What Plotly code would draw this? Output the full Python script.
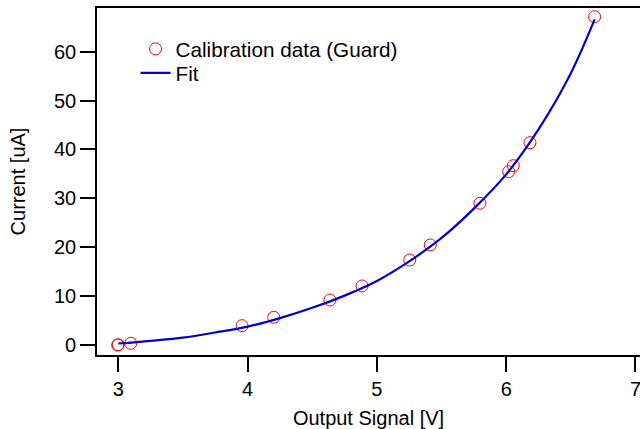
import plotly.graph_objects as go

# Calibration data
data_x = [2.995, 3.0, 3.096, 3.957, 4.202, 4.637, 4.885, 5.254, 5.413, 5.797, 6.019, 6.055, 6.184, 6.684]
data_y = [0.0, 0.05, 0.35, 3.95, 5.67, 9.2, 12.07, 17.39, 20.46, 28.99, 35.45, 36.68, 41.39, 67.16]

# Fit curve
fit_x = [3.0, 3.25, 3.5, 3.75, 4.0, 4.25, 4.5, 4.75, 5.0, 5.25, 5.5, 5.75, 6.0, 6.25, 6.5, 6.684]
fit_y = [0.3, 0.85, 1.5, 2.55, 3.75, 5.5, 7.6, 10.1, 13.1, 17.1, 21.9, 27.9, 34.9, 44.1, 55.6, 66.6]

x_ticks = [3, 4, 5, 6, 7]
y_ticks = [0, 10, 20, 30, 40, 50, 60]

FONT = "Liberation Sans, Arial, sans-serif"
FS = 20

fig = go.Figure()
fig.add_trace(go.Scatter(
    x=data_x, y=data_y, mode="markers", name="Calibration data (Guard)", legend="legend",
    marker=dict(symbol="circle-open", size=12, color="#ff0000", line=dict(width=1, color="#ff0000")),
))
fig.add_trace(go.Scatter(
    x=fit_x, y=fit_y, mode="lines", name="Fit", line_shape="spline", legend="legend2",
    line=dict(color="#0000cc", width=2.2),
))

leg_common = dict(xanchor="left", yanchor="middle", bgcolor="rgba(0,0,0,0)", borderwidth=0,
                  font=dict(family=FONT, size=20.7, color="black"))

fig.update_layout(
    width=640, height=429,
    margin=dict(l=97, r=0, t=8, b=74),
    paper_bgcolor="white", plot_bgcolor="white",
    font=dict(family=FONT, size=FS, color="black"),
    showlegend=True,
    legend=dict(x=0.071, y=0.882, **leg_common),
    legend2=dict(x=0.071, y=0.813, **leg_common),
    xaxis=dict(
        range=[2.835, 7.035], tickvals=x_ticks, ticktext=[str(v) for v in x_ticks],
        showgrid=False, zeroline=False, showline=True, linecolor="black", linewidth=1.6,
        mirror=True, ticks="outside", ticklen=15, tickwidth=1.6, tickcolor="black",
        ticklabeloverflow="allow", automargin=False,
        tickfont=dict(size=FS),
        title=dict(text="Output Signal [V]", font=dict(size=FS), standoff=13),
    ),
    yaxis=dict(
        range=[-2.05, 68.94], tickvals=y_ticks, ticktext=[str(v) for v in y_ticks],
        showgrid=False, zeroline=False, showline=True, linecolor="black", linewidth=1.6,
        ticks="outside", ticklen=15, tickwidth=1.6, tickcolor="black",
        automargin=False, tickfont=dict(size=FS),
        title=dict(text="Current [uA]", font=dict(size=FS), standoff=23),
    ),
)

fig.write_html("out.html")
